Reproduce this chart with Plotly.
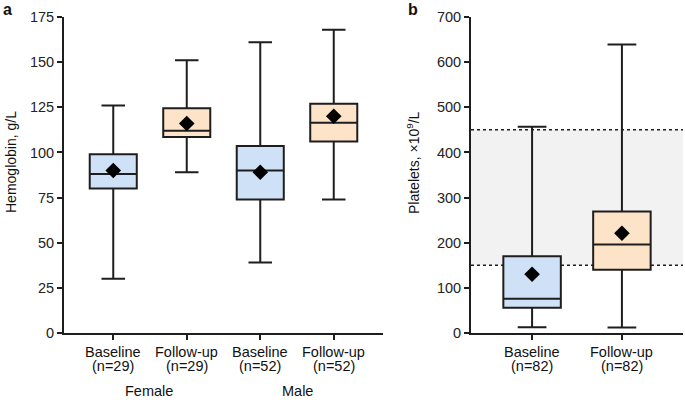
import plotly.graph_objects as go

# panel a: hemoglobin by sex, baseline vs follow-up
hb_names = ["Baseline", "Follow-up", "Baseline", "Follow-up"]
hb_n = [29, 29, 52, 52]
hb_low = [30, 89, 39, 74]
hb_q1 = [80, 108.5, 74, 106]
hb_med = [88, 112, 90, 116.5]
hb_q3 = [99, 124.5, 103.5, 127]
hb_high = [126, 151, 161, 168]
hb_mean = [90, 116, 89, 120]
hb_groups = ["Female", "Male"]

# panel b: platelets
plt_names = ["Baseline", "Follow-up"]
plt_n = [82, 82]
plt_low = [13, 12]
plt_q1 = [56, 140]
plt_med = [76, 196]
plt_q3 = [170, 269]
plt_high = [457, 639]
plt_mean = [130, 221]
plt_normal = [150, 450]

BLUE = "#cfe1f6"
ORANGE = "#fde3c7"
LINE = "#1e1e1e"
FONT = "Liberation Sans"

W, H = 685, 400
TOP, BOTTOM = 17, 333  # plot area in pixels
fig = go.Figure()


def add_boxes(xax, yax, low, q1, med, q3, high, mean):
    for i in range(len(med)):
        fill = BLUE if i % 2 == 0 else ORANGE
        fig.add_trace(go.Box(x=[i], lowerfence=[low[i]], q1=[q1[i]], median=[med[i]],
                             q3=[q3[i]], upperfence=[high[i]], width=0.64, whiskerwidth=0.5,
                             fillcolor=fill, line=dict(color=LINE, width=2),
                             xaxis=xax, yaxis=yax, showlegend=False, hoverinfo="skip"))
    fig.add_trace(go.Scatter(x=list(range(len(mean))), y=mean, mode="markers",
                             marker=dict(symbol="diamond", size=12, color="black"),
                             xaxis=xax, yaxis=yax, showlegend=False))


add_boxes("x", "y", hb_low, hb_q1, hb_med, hb_q3, hb_high, hb_mean)
add_boxes("x2", "y2", plt_low, plt_q1, plt_med, plt_q3, plt_high, plt_mean)

# normal platelet range band
fig.add_shape(type="rect", xref="x2 domain", yref="y2", x0=0, x1=1,
              y0=plt_normal[0], y1=plt_normal[1], fillcolor="#f2f2f2",
              line_width=0, layer="below")
for v in plt_normal:
    fig.add_shape(type="line", xref="x2 domain", yref="y2", x0=0, x1=1, y0=v, y1=v,
                  line=dict(color=LINE, width=1.5, dash="dot"), layer="below")

axis_common = dict(showline=True, linecolor=LINE, linewidth=2, ticks="outside",
                   ticklen=5, tickwidth=1.5, tickcolor=LINE, showgrid=False,
                   zeroline=False, automargin=False, tickfont=dict(size=14.5, color="#222"))

fig.update_layout(
    width=W, height=H,
    margin=dict(l=0, r=0, t=TOP, b=H - BOTTOM, autoexpand=False),
    paper_bgcolor="white", plot_bgcolor="rgba(0,0,0,0)",
    font=dict(family=FONT, size=14, color="#222"),
    xaxis=dict(domain=[64 / W, 383 / W], range=[-0.67, 3.67],
               tickvals=list(range(4)), showticklabels=False, **axis_common),
    yaxis=dict(domain=[0, 1], range=[0, 175], tickvals=list(range(0, 176, 25)),
               anchor="x", **axis_common),
    xaxis2=dict(domain=[471 / W, 683 / W], range=[-0.68, 1.68],
                tickvals=[0, 1], showticklabels=False, anchor="y2", **axis_common),
    yaxis2=dict(domain=[0, 1], range=[0, 700], tickvals=list(range(0, 701, 100)),
                anchor="x2", **axis_common),
)


def py(y):
    return (BOTTOM - y) / (BOTTOM - TOP)


def note(text, x, y, size=14, angle=0, xref="paper"):
    # y is a pixel position in the picture, x is pixels unless xref is a data axis
    fig.add_annotation(text=text, xref=xref, yref="paper",
                       x=x / W if xref == "paper" else x, y=py(y),
                       xanchor="center", yanchor="middle", textangle=angle,
                       showarrow=False, font=dict(size=size, color="#111"))


# category labels, two tight lines each
for xref, names, ns in (("x", hb_names, hb_n), ("x2", plt_names, plt_n)):
    for i, (name, n) in enumerate(zip(names, ns)):
        note(name, i, 352, size=14.5, xref=xref)
        note(f"(n={n})", i, 366, size=14.5, xref=xref)

note("<b>a</b>", 8, 9, size=16)
note("<b>b</b>", 413, 9, size=16)
note("Hemoglobin, g/L", 11, 162, angle=-90)
note("Platelets, ×10<sup>9</sup>/L", 413, 162, angle=-90)
note(hb_groups[0], 149, 391, size=14.5)
note(hb_groups[1], 297, 391, size=14.5)

# drop the default page margin so the figure sits at the window's corner
fig.write_html("out.html", config={"displayModeBar": False},
               post_script="document.body.style.margin='0px';")
